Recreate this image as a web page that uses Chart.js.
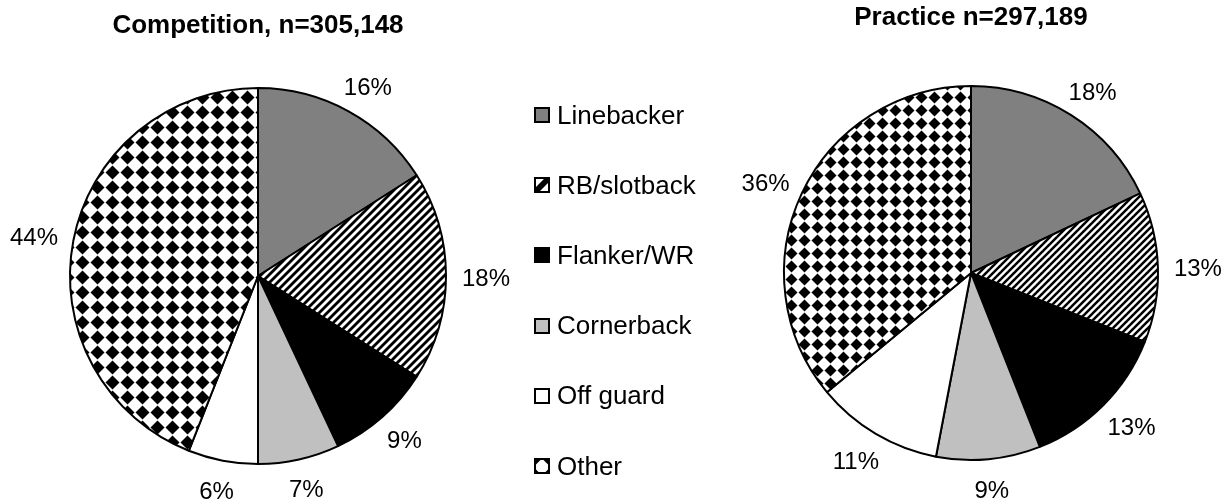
<!DOCTYPE html>
<html>
<head>
<meta charset="utf-8">
<script src="https://cdn.jsdelivr.net/npm/chart.js@4.4.1/dist/chart.umd.min.js"></script>
<style>
  body { margin: 0; background: #fff; width: 1227px; height: 504px; position: relative; overflow: hidden;
         font-family: "Liberation Sans", Arial, sans-serif; }
  .box { position: absolute; top: 0; height: 504px; }
  #left { left: 0; width: 516px; }
  #right { left: 720px; width: 502px; }
  #legend { position: absolute; left: 534px; top: 80px; }
  .item { height: 70.2px; display: flex; align-items: center; font-size: 26px; color: #000; }
  .item canvas { width: 16px; height: 16px; margin-right: 7px; }
</style>
</head>
<body>
<div class="box" id="left"><canvas id="pie1"></canvas></div>
<div id="legend"></div>
<div class="box" id="right"><canvas id="pie2"></canvas></div>
<script>
// data
const categories = ['Linebacker', 'RB/slotback', 'Flanker/WR', 'Cornerback', 'Off guard', 'Other'];
const competitionValues = [16, 18, 9, 7, 6, 44];
const practiceValues = [18, 13, 13, 9, 11, 36];
const chartTitles = ['Competition, n=305,148', 'Practice n=297,189'];

const FONT = '"Liberation Sans", Arial, sans-serif';

// hatch fills like the Excel ones
function makePattern(kind, size) {
    const c = document.createElement('canvas');
    c.width = size; c.height = size;
    const g = c.getContext('2d');
    g.fillStyle = '#fff';
    g.fillRect(0, 0, size, size);
    g.fillStyle = '#000';
    g.strokeStyle = '#000';
    if (kind === 'stripes') {
        g.lineWidth = size * 0.36;
        for (let k = -1; k <= 1; k++) {
            g.beginPath();
            g.moveTo(k * size - 1, size + 1);
            g.lineTo(k * size + size + 1, -1);
            g.stroke();
        }
    } else if (kind === 'diamonds') {
        const h = size / 2;
        // rotated checkerboard: black diamond in the middle, white ones at the corners
        g.beginPath();
        g.moveTo(h, 0.5);
        g.lineTo(size - 0.5, h);
        g.lineTo(h, size - 0.5);
        g.lineTo(0.5, h);
        g.closePath();
        g.fill();
    }
    return g.createPattern(c, 'repeat');
}

function fills(stripeSize, diamondSize) {
    return ['#808080', makePattern('stripes', stripeSize), '#000000', '#c0c0c0', '#ffffff', makePattern('diamonds', diamondSize)];
}

// percent labels outside the slices
const outsideLabels = {
    id: 'outsideLabels',
    afterDatasetsDraw(chart) {
        const ctx = chart.ctx;
        const meta = chart.getDatasetMeta(0);
        const values = chart.data.datasets[0].data;
        ctx.save();
        ctx.font = '24px ' + FONT;
        ctx.fillStyle = '#000';
        ctx.textAlign = 'center';
        ctx.textBaseline = 'middle';
        meta.data.forEach(function(arc, i) {
            const p = arc.getProps(['x', 'y', 'startAngle', 'endAngle', 'outerRadius'], true);
            const mid = (p.startAngle + p.endAngle) / 2;
            const dx = Math.cos(mid), dy = Math.sin(mid);
            const text = values[i] + '%';
            const w = ctx.measureText(text).width;
            const r = p.outerRadius + 16;
            ctx.fillText(text, p.x + dx * r + dx * w / 2, p.y + dy * r + dy * 13 + 3);
        });
        ctx.restore();
    }
};

function pieChart(id, values, title, pads, sizes) {
    return new Chart(document.getElementById(id), {
        type: 'pie',
        data: {
            labels: categories,
            datasets: [{
                data: values,
                backgroundColor: fills(sizes[0], sizes[1]),
                borderColor: '#000',
                borderWidth: 2
            }]
        },
        options: {
            responsive: true,
            maintainAspectRatio: false,
            animation: false,
            layout: { padding: { top: 0, bottom: pads.bottom, left: 0, right: 0 } },
            plugins: {
                legend: { display: false },
                tooltip: { enabled: false },
                title: {
                    display: true,
                    text: title,
                    color: '#000',
                    font: { family: FONT, size: 26, weight: 'bold', lineHeight: 1.2 },
                    padding: { top: pads.titleTop, bottom: pads.titleBottom }
                }
            }
        },
        plugins: [outsideLabels]
    });
}

pieChart('pie1', competitionValues, chartTitles[0], { titleTop: 10, titleBottom: 45.8, bottom: 39 }, [8, 15]);
pieChart('pie2', practiceValues, chartTitles[1], { titleTop: 2, titleBottom: 51.8, bottom: 43 }, [7, 13]);

// legend between the pies, swatches use the same fills at icon scale
const legendFills = fills(16, 16);
legendFills[5].setTransform(new DOMMatrix().translate(8, 9));
const legend = document.getElementById('legend');
categories.forEach(function(name, i) {
    const row = document.createElement('div');
    row.className = 'item';
    const sw = document.createElement('canvas');
    sw.width = 16; sw.height = 16;
    const g = sw.getContext('2d');
    g.fillStyle = legendFills[i];
    g.fillRect(0, 0, 16, 16);
    g.strokeStyle = '#000';
    g.lineWidth = 2;
    g.strokeRect(1, 1, 14, 14);
    row.appendChild(sw);
    row.appendChild(document.createTextNode(name));
    legend.appendChild(row);
});
</script>
</body>
</html>
